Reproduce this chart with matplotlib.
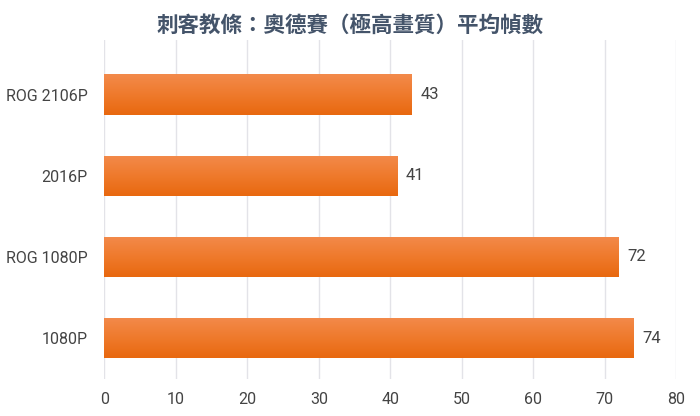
import matplotlib.pyplot as plt
import numpy as np

plt.rcParams['font.family'] = ['Roboto', 'Noto Sans CJK TC', 'DejaVu Sans']

labels = ["ROG 2106P", "2016P", "ROG 1080P", "1080P"]
fps = [43, 41, 72, 74]

fig = plt.figure(figsize=(7, 4.16), dpi=100)
ax = fig.add_axes([0.149, 0.09, 0.817, 0.815])

ypos = np.arange(len(labels))
bars = ax.barh(ypos, fps, height=0.5, color="#ef7a2c", zorder=2)

# vertical gradient inside each bar, light on top, darker at bottom
grad = np.linspace(0, 1, 100).reshape(-1, 1)
cmap = plt.matplotlib.colors.LinearSegmentedColormap.from_list("o", ["#f38a4b", "#ef7a2c", "#e8680f"])
for b in bars:
    x0, y0, w, h = b.get_x(), b.get_y(), b.get_width(), b.get_height()
    im = ax.imshow(grad, extent=[x0, x0 + w, y0 + h, y0], aspect="auto", cmap=cmap, zorder=3)
    im.set_clip_path(b)
    ax.text(x0 + w + 1.2, y0 + h / 2, str(int(w)), va="center", ha="left", fontsize=12, color="#444444")

ax.set_xlim(0, 80)
ax.set_ylim(3.5, -0.68)
ax.set_yticks(ypos)
ax.set_yticklabels(labels, fontsize=11.5, color="#444444")
ax.set_xticks(range(0, 81, 10))
ax.tick_params(axis="x", labelsize=11.5, colors="#444444", length=0, pad=10)
ax.tick_params(axis="y", length=0, pad=12)
ax.grid(axis="x", color="#e3e3e8", linewidth=1, zorder=0)
for s in ax.spines.values():
    s.set_visible(False)

fig.text(0.5, 0.94, "刺客教條：奧德賽（極高畫質）平均幀數", ha="center", va="center",
         fontsize=15.5, fontweight="bold", color="#44546a", family=['Noto Sans CJK TC', 'DejaVu Sans'])

fig.savefig("out.png", dpi=100)
